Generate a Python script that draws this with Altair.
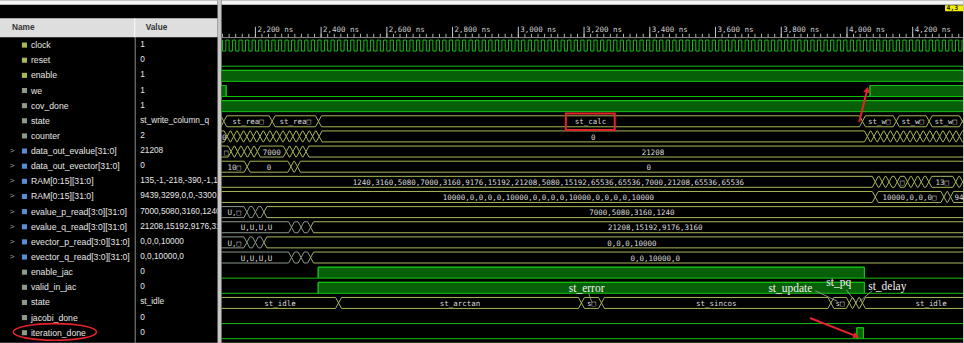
import altair as alt
import pandas as pd

# ---------------- values ----------------
SIGNAL_NAMES = ["clock", "reset", "enable", "we", "cov_done", "state", "counter",
                "data_out_evalue[31:0]", "data_out_evector[31:0]", "RAM[0:15][31:0]",
                "RAM[0:15][31:0]", "evalue_p_read[3:0][31:0]", "evalue_q_read[3:0][31:0]",
                "evector_p_read[3:0][31:0]", "evector_q_read[3:0][31:0]", "enable_jac",
                "valid_in_jac", "state", "jacobi_done", "iteration_done"]
SIGNAL_VALUES = ["1", "0", "1", "1", "1", "st_write_column_q", "2", "21208", "0",
                 "135,-1,-218,-390,-1,100,0", "9439,3299,0,0,-3300,0,0",
                 "7000,5080,3160,1240", "21208,15192,9176,3160", "0,0,0,10000",
                 "0,0,10000,0", "0", "0", "st_idle", "0", "0"]
ICON_KIND = ["in", "in", "in", "sig", "sig", "sig", "sig", "bus", "bus", "bus", "bus",
             "bus", "bus", "bus", "bus", "sig", "sig", "sig", "sig", "sig"]
HEADER_TEXT = ["Name", "Value"]

TICK_NS = [2200, 2400, 2600, 2800, 3000, 3200, 3400, 3600, 3800, 4000, 4200]
TICK_LABELS = ["2,200 ns", "2,400 ns", "2,600 ns", "2,800 ns", "3,000 ns", "3,200 ns",
               "3,400 ns", "3,600 ns", "3,800 ns", "4,000 ns", "4,200 ns"]

CLOCK_PERIOD_NS = 20
CLOCK_FIRST_RISE_NS = 2090

RESET_T, RESET_V = [2080], [0]
ENABLE_T, ENABLE_V = [2080], [1]
WE_T, WE_V = [2080, 2111, 4070], [1, 0, 1]
COV_T, COV_V = [2080], [1]
ENJAC_T, ENJAC_V = [2080, 2391, 4053], [0, 1, 0]
VALID_T, VALID_V = [2080, 2391, 4053], [0, 1, 0]
JDONE_T, JDONE_V = [2080], [0]
ITER_T, ITER_V = [2080, 4030, 4050], [0, 1, 0]

STATE_T = [2080, 2104, 2251, 2392, 4047, 4150, 4250, 4351]
STATE_L = ["", "st_rea\u25a1", "st_rea\u25a1", "st_calc", "st_w\u25a1", "st_w\u25a1", "st_w\u25a1", ""]
COUNTER_T = [2080, 2114, 2134, 2154, 2174, 2194, 2214, 2234, 2254, 2274, 2294, 2314, 2334, 2354,
             2374, 2394, 4062, 4082, 4102, 4122, 4142, 4162, 4182, 4202, 4222, 4242, 4262, 4282,
             4302, 4322, 4342]
COUNTER_L = ["0"] + [""] * 14 + ["0"] + [""] * 15
EVALUE_T = [2080, 2126, 2146, 2166, 2186, 2206, 2294, 2314, 2334, 2354]
EVALUE_L = ["\u25a1", "", "", "", "", "7000", "", "", "", "21208"]
EVECTOR_T = [2080, 2175, 2308, 2328]
EVECTOR_L = ["10\u25a1", "0", "", "0"]
RAM1_T = [2080, 4086, 4107, 4128, 4153, 4184, 4205, 4226, 4249, 4331, 4352]
RAM1_L = ["1240,3160,5080,7000,3160,9176,15192,21208,5080,15192,65536,65536,7000,21208,65536,65536",
          "", "", "", "\u25a1", "", "", "", "13\u25a1", "", ""]
RAM2_T = [2080, 4086, 4295, 4315]
RAM2_L = ["10000,0,0,0,0,10000,0,0,0,0,10000,0,0,0,0,10000", "10000,0,0,0\u25a1", "", "94"]
EVP_T = [2080, 2174, 2200, 2226]
EVP_L = ["U,\u25a1", "", "", "7000,5080,3160,1240"]
EVQ_T = [2080, 2310, 2339, 2368]
EVQ_L = ["U,U,U,U", "", "", "21208,15192,9176,3160"]
EXP_T = [2080, 2174, 2200, 2226]
EXP_L = ["U,\u25a1", "", "", "0,0,0,10000"]
EXQ_T = [2080, 2310, 2339, 2368]
EXQ_L = ["U,U,U,U", "", "", "0,0,10000,0"]
U_FLAGS = [1, 1, 1, 0]
STATE2_T = [2080, 2453, 3192, 3253, 3951, 4007, 4027, 4047]
STATE2_L = ["st_idle", "st_arctan", "s\u25a1", "st_sincos", "s\u25a1", "", "", "st_idle"]

# labels that are truncated at the window edge are drawn from the segment start
LEFT_ALIGNED = {(10, 3)}

ANNOT_TEXT = ["st_error", "st_update", "st_pq", "st_delay"]

# ---------------- layout / style ----------------
W_LEFT, W_RIGHT, H = 218, 743, 343
ROW_PX, ROW0_PX = 15.17, 44.83
T_MIN, T_MAX, T_END = 2097, 4353, 4465
PX_PER_NS = W_RIGHT / (T_MAX - T_MIN)
RIGHT_X0 = 221
HIGH, LOW = -0.33, 0.395
MID = (HIGH + LOW) / 2
LABEL_DY = 0.11
D_NS = 9

GREEN = "#14c214"
FILL = "#076007"
ORANGE = "#c27a06"
WTEXT = "#dadada"
RED = "#e3242b"


def r(p):  # pixel row -> row units
    return (p - ROW0_PX) / ROW_PX


def ns(x):  # image pixel x -> ns
    return T_MIN + (x - RIGHT_X0) / PX_PER_NS


YS = alt.Scale(domain=[r(0), r(H)], nice=False, zero=False, reverse=True)
XS = alt.Scale(domain=[T_MIN, T_MAX], nice=False, zero=False)


def ye(f):
    return alt.Y(f"{f}:Q", scale=YS, axis=None)


def xe(f):
    return alt.X(f"{f}:Q", scale=XS, axis=None)


# ---------------- build tables ----------------
clock_t = list(range(CLOCK_FIRST_RISE_NS, T_END, CLOCK_PERIOD_NS // 2))
clock_v = [1 if i % 2 == 0 else 0 for i in range(len(clock_t))]
ONE_BIT = [(0, clock_t, clock_v, False), (1, RESET_T, RESET_V, True), (2, ENABLE_T, ENABLE_V, True),
           (3, WE_T, WE_V, True), (4, COV_T, COV_V, True), (15, ENJAC_T, ENJAC_V, True),
           (16, VALID_T, VALID_V, True), (18, JDONE_T, JDONE_V, True), (19, ITER_T, ITER_V, True)]
line_rows, rect_rows = [], []
for sid, (row, T, V, fill) in enumerate(ONE_BIT):
    for t, v in zip(T, V):
        line_rows.append(dict(sig=sid, t=t, y=row + (HIGH if v else LOW)))
    line_rows.append(dict(sig=sid, t=T_END, y=row + (HIGH if V[-1] else LOW)))
    if fill:
        for t0, t1, v in zip(T, T[1:] + [T_END], V):
            if v:
                rect_rows.append(dict(t0=t0, t1=t1, y0=row + HIGH, y1=row + LOW))

BUSES = [(5, STATE_T, STATE_L, None), (6, COUNTER_T, COUNTER_L, None),
         (7, EVALUE_T, EVALUE_L, None), (8, EVECTOR_T, EVECTOR_L, None),
         (9, RAM1_T, RAM1_L, None), (10, RAM2_T, RAM2_L, None),
         (11, EVP_T, EVP_L, U_FLAGS), (12, EVQ_T, EVQ_L, U_FLAGS),
         (13, EXP_T, EXP_L, U_FLAGS), (14, EXQ_T, EXQ_L, U_FLAGS),
         (17, STATE2_T, STATE2_L, None)]
hex_rows, lab_rows, labl_rows = [], [], []
seg = 0
for row, T, L, U in BUSES:
    for i, (t0, t1, lab) in enumerate(zip(T, T[1:] + [T_END], L)):
        kind = "u" if (U and U[i]) else "g"
        d = min(D_NS, (t1 - t0) / 2)
        pts = [(t0, row + MID), (t0 + d, row + HIGH), (t1 - d, row + HIGH), (t1, row + MID),
               (t1 - d, row + LOW), (t0 + d, row + LOW), (t0, row + MID)]
        for k, (t, y) in enumerate(pts):
            hex_rows.append(dict(seg=seg, k=k, t=t, y=y, kind=kind))
        seg += 1
        if lab:
            if (row, i) in LEFT_ALIGNED:
                labl_rows.append(dict(t=t0 + d, y=row + LABEL_DY, text=lab))
            else:
                lab_rows.append(dict(t=(max(t0, T_MIN) + min(t1, T_END)) / 2, y=row + LABEL_DY, text=lab))

line_df = pd.DataFrame(line_rows)
rect_df = pd.DataFrame(rect_rows)
hex_df = pd.DataFrame(hex_rows)
lab_df = pd.DataFrame(lab_rows)
labl_df = pd.DataFrame(labl_rows)

# ---------------- left panel ----------------
rows = list(range(len(SIGNAL_NAMES)))
left_df = pd.DataFrame(dict(y=rows, name=SIGNAL_NAMES, value=SIGNAL_VALUES, icon=ICON_KIND))
exp_df = left_df[left_df.icon == "bus"]

strip = alt.Chart(pd.DataFrame([dict(y0=r(0), y1=r(4.5))]))
header = alt.Chart(pd.DataFrame([dict(y0=r(18), y1=r(37), ty=r(28),
                                      n=HEADER_TEXT[0], v=HEADER_TEXT[1])]))
head_txt = dict(font="Liberation Sans", fontSize=8.3, fontWeight="bold", color="#333333",
                align="left", baseline="middle")
left = alt.layer(
    strip.mark_rect(color="#f2f2f2").encode(x=alt.value(0), x2=alt.value(W_LEFT), y=ye("y0"), y2="y1:Q"),
    header.mark_rect(color="#dedede").encode(x=alt.value(0), x2=alt.value(W_LEFT), y=ye("y0"), y2="y1:Q"),
    header.mark_rule(color="#fafafa").encode(x=alt.value(135), y=ye("y0"), y2="y1:Q"),
    alt.Chart(pd.DataFrame([dict(y0=r(37), y1=r(H))])).mark_rule(color="#8c8c8c").encode(
        x=alt.value(135.5), y=ye("y0"), y2="y1:Q"),
    header.mark_text(**head_txt).encode(x=alt.value(12), y=ye("ty"), text="n:N"),
    header.mark_text(**head_txt).encode(x=alt.value(146), y=ye("ty"), text="v:N"),
    alt.Chart(exp_df).mark_text(text=">", font="Liberation Sans", fontSize=8, color="#a8a8a8",
                                baseline="middle").encode(x=alt.value(12), y=ye("y")),
    alt.Chart(left_df).mark_square(size=26, opacity=1).encode(
        x=alt.value(24.5), y=ye("y"),
        color=alt.Color("icon:N", scale=alt.Scale(domain=["in", "sig", "bus"],
                                                  range=["#a6b85a", "#8c9a8c", "#5b8bd0"]), legend=None)),
    alt.Chart(left_df).mark_text(font="Liberation Sans", fontSize=8.7, color="#e6e6e6", align="left",
                                 baseline="middle").encode(x=alt.value(31), y=ye("y"), text="name:N"),
    alt.Chart(left_df).mark_text(font="Liberation Sans", fontSize=8.3, color="#e6e6e6", align="left",
                                 baseline="middle", clip=True).encode(x=alt.value(140.5), y=ye("y"),
                                                                      text="value:N"),
    alt.Chart(pd.DataFrame([dict(y=r(332.3))])).mark_point(
        shape="M 1 0 C 1 0.11 0.552 0.2 0 0.2 C -0.552 0.2 -1 0.11 -1 0 C -1 -0.11 -0.552 -0.2 0 -0.2 "
              "C 0.552 -0.2 1 -0.11 1 0 Z",
        size=6956, filled=False, color=RED, strokeWidth=1.6, opacity=1).encode(x=alt.value(55), y=ye("y")),
).properties(width=W_LEFT, height=H)

# ---------------- right panel ----------------
major_df = pd.DataFrame(dict(t=TICK_NS, label=TICK_LABELS, y0=r(26.5), y1=r(37), ty=r(30)))
minor_df = pd.DataFrame(dict(t=list(range(2100, T_MAX, 20)), y0=r(33.5), y1=r(37)))

annot_df = pd.DataFrame(dict(t=[ns(569), ns(769), ns(827), ns(869)],
                             y=[r(289), r(289), r(283), r(287)], text=ANNOT_TEXT))
leader_df = pd.DataFrame(dict(t0=[ns(589), ns(816), ns(847), ns(873)],
                              t1=[ns(592), ns(838), ns(857), ns(860)],
                              y0=[r(294), r(291), r(290), r(291)],
                              y1=[r(302), r(301.5), r(303), r(302)]))
arrow_df = pd.DataFrame(dict(t0=[ns(860), ns(810.7)], t1=[ns(868), ns(857)],
                             y0=[r(122), r(318.3)], y1=[r(89.5), r(336.5)], ang=[14, 111]))

wave_txt = dict(font="DejaVu Sans Mono", fontSize=7.5, color=WTEXT, baseline="middle", clip=True)
right = alt.layer(
    strip.mark_rect(color="#f2f2f2").encode(x=alt.value(0), x2=alt.value(W_RIGHT), y=ye("y0"), y2="y1:Q"),
    alt.Chart(pd.DataFrame([dict(t0=ns(946), t1=T_MAX, y0=r(5), y1=r(10.8))])).mark_rect(
        color="#f5f000", clip=True).encode(x=xe("t0"), x2="t1:Q", y=ye("y0"), y2="y1:Q"),
    alt.Chart(pd.DataFrame([dict(tx=ns(947.5), ty=r(8), s="4,3")])).mark_text(
        font="DejaVu Sans Mono", fontSize=6.5, fontWeight="bold", color="#202020", align="left",
        baseline="middle", clip=True).encode(x=xe("tx"), y=ye("ty"), text="s:N"),
    alt.Chart(pd.DataFrame([dict(y=r(37.3))])).mark_rule(color="#8a8a8a").encode(
        x=alt.value(0), x2=alt.value(W_RIGHT), y=ye("y")),
    alt.Chart(minor_df).mark_rule(color="#b4b4b4", clip=True).encode(x=xe("t"), y=ye("y0"), y2="y1:Q"),
    alt.Chart(major_df).mark_rule(color="#c8c8c8", clip=True).encode(x=xe("t"), y=ye("y0"), y2="y1:Q"),
    alt.Chart(major_df).mark_text(font="DejaVu Sans Mono", fontSize=7.5, color="#d0d0d0", align="left",
                                  baseline="middle", dx=2, clip=True).encode(x=xe("t"), y=ye("ty"),
                                                                             text="label:N"),
    alt.Chart(rect_df).mark_rect(fill=FILL, stroke=GREEN, strokeWidth=1, clip=True).encode(
        x=xe("t0"), x2="t1:Q", y=ye("y0"), y2="y1:Q"),
    alt.Chart(line_df).mark_line(interpolate="step-after", color=GREEN, strokeWidth=1, clip=True).encode(
        x=xe("t"), y=ye("y"), detail="sig:N"),
    alt.Chart(hex_df).mark_line(strokeWidth=1, clip=True).encode(
        x=xe("t"), y=ye("y"), detail="seg:N", order="k:Q",
        color=alt.Color("kind:N", scale=alt.Scale(domain=["g", "u"], range=[GREEN, ORANGE]), legend=None)),
    alt.Chart(lab_df).mark_text(align="center", **wave_txt).encode(x=xe("t"), y=ye("y"), text="text:N"),
    alt.Chart(labl_df).mark_text(align="left", dx=1, **wave_txt).encode(x=xe("t"), y=ye("y"), text="text:N"),
    alt.Chart(pd.DataFrame([dict(t0=ns(566), t1=ns(615), y0=r(113.5), y1=r(130))])).mark_rect(
        fillOpacity=0, stroke=RED, strokeWidth=2, clip=True).encode(x=xe("t0"), x2="t1:Q", y=ye("y0"),
                                                                     y2="y1:Q"),
    alt.Chart(leader_df).mark_rule(color="#a8a8a8", strokeWidth=0.8, clip=True).encode(
        x=xe("t0"), x2="t1:Q", y=ye("y0"), y2="y1:Q"),
    alt.Chart(annot_df).mark_text(font="Liberation Serif", fontSize=11.5, color="#f2f2f2", align="left",
                                  baseline="middle", clip=True).encode(x=xe("t"), y=ye("y"), text="text:N"),
    alt.Chart(arrow_df).mark_rule(color=RED, strokeWidth=2, clip=True).encode(
        x=xe("t0"), x2="t1:Q", y=ye("y0"), y2="y1:Q"),
    alt.Chart(arrow_df).mark_point(shape="triangle-up", filled=True, color=RED, size=45, opacity=1,
                                   clip=True).encode(x=xe("t1"), y=ye("y1"), angle=alt.Angle("ang:Q",
                                                                                         scale=None)),
).properties(width=W_RIGHT, height=H)

chart = alt.hconcat(left, right, spacing=3).properties(
    background="#c6c6c6", padding=0
).configure_view(stroke=None, fill="#000000")

chart.save("out.html", embed_options={"renderer": "svg", "actions": False})
